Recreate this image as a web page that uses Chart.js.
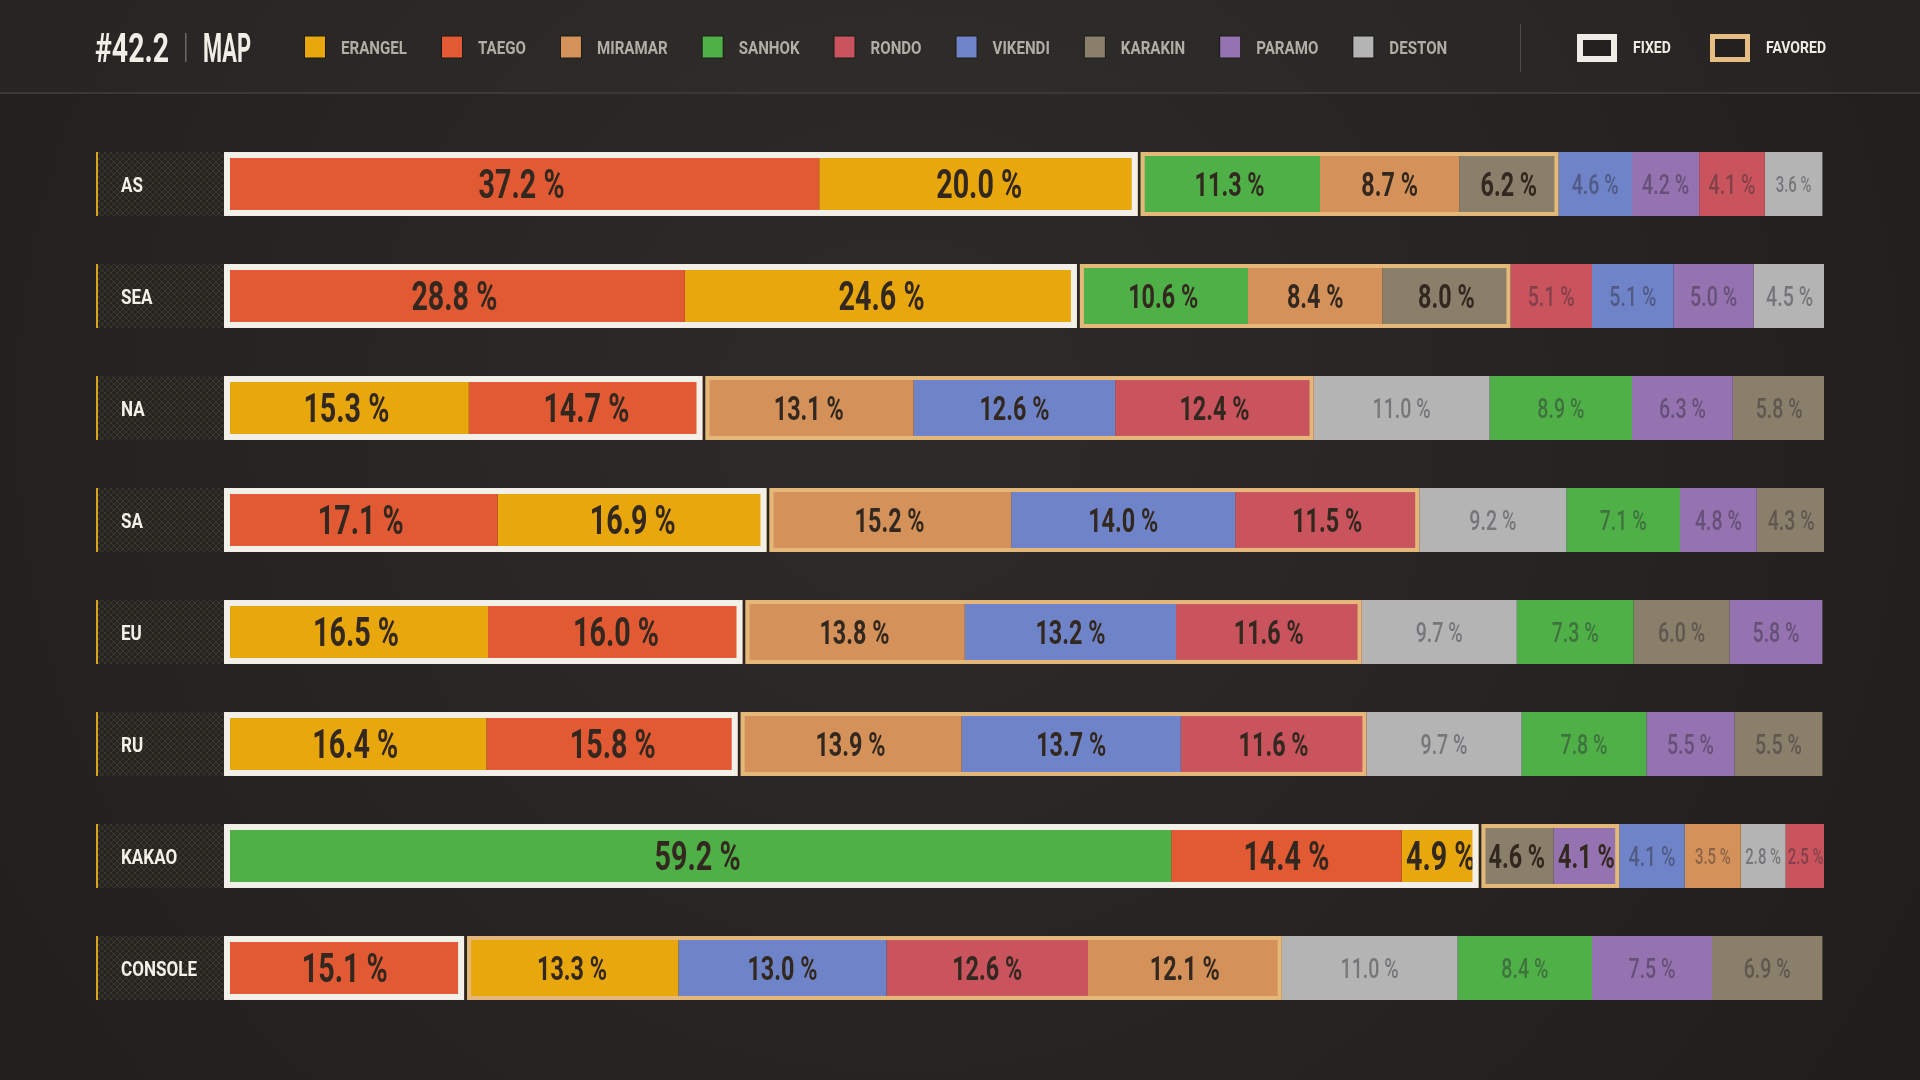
<!DOCTYPE html>
<html>
<head>
<meta charset="utf-8">
<title>#42.2 MAP</title>
<script src="https://cdn.jsdelivr.net/npm/chart.js@4.4.1/dist/chart.umd.min.js"></script>
<style>
  html, body { margin: 0; padding: 0; background: #292724; }
  #wrap { position: relative; width: 1920px; height: 1080px; }
  canvas { display: block; }
</style>
</head>
<body>
<div id="wrap"><canvas id="mapChart" width="1920" height="1080"></canvas></div>
<script>
// regions (rows) and maps (legend order)
const regions = ["AS", "SEA", "NA", "SA", "EU", "RU", "KAKAO", "CONSOLE"];
const maps = ["ERANGEL", "TAEGO", "MIRAMAR", "SANHOK", "RONDO", "VIKENDI", "KARAKIN", "PARAMO", "DESTON"];
const mapColors = ["#e8a70c", "#e25a34", "#d4925a", "#4fb047", "#c9545e", "#6f84c8", "#8a7f6a", "#9572b0", "#b4b4b4"];

// share of each map (%), one value per region, same order as regions
const erangel = [20.0, 24.6, 15.3, 16.9, 16.5, 16.4, 4.9, 13.3];
const taego   = [37.2, 28.8, 14.7, 17.1, 16.0, 15.8, 14.4, 15.1];
const miramar = [8.7, 8.4, 13.1, 15.2, 13.8, 13.9, 3.5, 12.1];
const sanhok  = [11.3, 10.6, 8.9, 7.1, 7.3, 7.8, 59.2, 8.4];
const rondo   = [4.1, 5.1, 12.4, 11.5, 11.6, 11.6, 2.5, 12.6];
const vikendi = [4.6, 5.1, 12.6, 14.0, 13.2, 13.7, 4.1, 13.0];
const karakin = [6.2, 8.0, 5.8, 4.3, 6.0, 5.5, 4.6, 6.9];
const paramo  = [4.2, 5.0, 6.3, 4.8, 5.8, 5.5, 4.1, 7.5];
const deston  = [3.6, 4.5, 11.0, 9.2, 9.7, 9.7, 2.8, 11.0];

// pools per region, left to right
const fixedPool = [
  ["TAEGO", "ERANGEL"], ["TAEGO", "ERANGEL"], ["ERANGEL", "TAEGO"], ["TAEGO", "ERANGEL"],
  ["ERANGEL", "TAEGO"], ["ERANGEL", "TAEGO"], ["SANHOK", "TAEGO", "ERANGEL"], ["TAEGO"]
];
const favoredPool = [
  ["SANHOK", "MIRAMAR", "KARAKIN"], ["SANHOK", "MIRAMAR", "KARAKIN"], ["MIRAMAR", "VIKENDI", "RONDO"],
  ["MIRAMAR", "VIKENDI", "RONDO"], ["MIRAMAR", "VIKENDI", "RONDO"], ["MIRAMAR", "VIKENDI", "RONDO"],
  ["KARAKIN", "PARAMO"], ["ERANGEL", "VIKENDI", "RONDO", "MIRAMAR"]
];
const otherPool = [
  ["VIKENDI", "PARAMO", "RONDO", "DESTON"], ["RONDO", "VIKENDI", "PARAMO", "DESTON"],
  ["DESTON", "SANHOK", "PARAMO", "KARAKIN"], ["DESTON", "SANHOK", "PARAMO", "KARAKIN"],
  ["DESTON", "SANHOK", "KARAKIN", "PARAMO"], ["DESTON", "SANHOK", "PARAMO", "KARAKIN"],
  ["VIKENDI", "MIRAMAR", "DESTON", "RONDO"], ["DESTON", "SANHOK", "PARAMO", "KARAKIN"]
];

const shareOf = { ERANGEL: erangel, TAEGO: taego, MIRAMAR: miramar, SANHOK: sanhok, RONDO: rondo,
                  VIKENDI: vikendi, KARAKIN: karakin, PARAMO: paramo, DESTON: deston };

const FONT = "Roboto, 'Open Sans', sans-serif";
const BG = "#292724";

// each dataset is one slot (1st segment, 2nd segment ...) so every row keeps its own order
const rowOrder = regions.map((r, i) => fixedPool[i].concat(favoredPool[i], otherPool[i]));
const datasets = [];
for (let k = 0; k < maps.length; k++) {
  datasets.push({
    label: "slot " + (k + 1),
    data: rowOrder.map((order, i) => shareOf[order[k]][i]),
    backgroundColor: rowOrder.map(order => mapColors[maps.indexOf(order[k])]),
    tier: rowOrder.map((order, i) => k < fixedPool[i].length ? 0 : (k < fixedPool[i].length + favoredPool[i].length ? 1 : 2)),
    borderWidth: 0,
    barPercentage: 0.571,
    categoryPercentage: 1
  });
}

// draw condensed text (horizontal squeeze)
function condText(ctx, txt, x, y, font, sx, align) {
  ctx.save();
  ctx.font = font;
  const w = ctx.measureText(txt).width * sx;
  let x0 = x;
  if (align === "center") x0 = x - w / 2;
  else if (align === "right") x0 = x - w;
  ctx.translate(x0, y);
  ctx.scale(sx, 1);
  ctx.textAlign = "left";
  ctx.textBaseline = "alphabetic";
  ctx.fillText(txt, 0, 0);
  ctx.restore();
  return w;
}
function squeeze(ctx, font, sample, target) {
  ctx.save();
  ctx.font = font;
  const w = ctx.measureText(sample).width;
  ctx.restore();
  return target / w;
}

let hatch = null;
function hatchPattern(ctx) {
  if (hatch) return hatch;
  const c = document.createElement("canvas");
  c.width = 6; c.height = 6;
  const g = c.getContext("2d");
  g.fillStyle = "#25241f";
  g.fillRect(0, 0, 6, 6);
  g.strokeStyle = "rgba(120,115,95,0.25)";
  g.lineWidth = 1;
  g.beginPath();
  g.moveTo(0, 6); g.lineTo(6, 0);
  g.moveTo(0, 0); g.lineTo(6, 6);
  g.stroke();
  hatch = ctx.createPattern(c, "repeat");
  return hatch;
}

const pageDecor = {
  id: "pageDecor",
  beforeDraw(chart) {
    const ctx = chart.ctx;
    ctx.save();
    const grad = ctx.createRadialGradient(900, 420, 100, 900, 420, 1200);
    grad.addColorStop(0, "#2d2b28");
    grad.addColorStop(1, "#1f1e1c");
    ctx.fillStyle = grad;
    ctx.fillRect(0, 0, chart.width, chart.height);

    // header strip
    ctx.fillStyle = "rgba(255,255,255,0.02)";
    ctx.fillRect(0, 0, chart.width, 92);
    ctx.fillStyle = "#3c3935";
    ctx.fillRect(0, 92, chart.width, 2);

    const cy = 47;
    // title
    ctx.fillStyle = "#f1eee8";
    const tFont = "bold 41px " + FONT;
    condText(ctx, "#42.2", 95, cy + 14.5, tFont, squeeze(ctx, tFont, "#42.2", 74), "left");
    condText(ctx, "MAP", 203, cy + 14.5, tFont, squeeze(ctx, tFont, "MAP", 48), "left");
    ctx.fillStyle = "rgba(255,255,255,0.3)";
    ctx.fillRect(185, 33, 1.5, 29);

    // legend
    const lFont = "bold 18px " + FONT;
    const lsx = squeeze(ctx, lFont, "ERANGEL", 66);
    let x = 305;
    maps.forEach((m, i) => {
      ctx.fillStyle = "rgba(0,0,0,0.35)";
      ctx.fillRect(x - 1, cy - 11.5, 22, 23);
      ctx.fillStyle = mapColors[i];
      ctx.fillRect(x, cy - 10.5, 20, 21);
      ctx.fillStyle = "#b2ada5";
      const w = condText(ctx, m, x + 36, cy + 6.5, lFont, lsx, "left");
      x = x + 36 + w + 35;
    });

    ctx.fillStyle = "rgba(255,255,255,0.18)";
    ctx.fillRect(1520, 24, 1, 48);

    // FIXED / FAVORED keys
    ctx.fillStyle = "#23211f";
    ctx.fillRect(1577, 34, 40, 28);
    ctx.fillRect(1710, 34, 40, 28);
    ctx.lineWidth = 6;
    ctx.strokeStyle = "#eeece6";
    ctx.strokeRect(1580, 37, 34, 22);
    ctx.lineWidth = 5;
    ctx.strokeStyle = "#e6bd82";
    ctx.strokeRect(1712.5, 36.5, 35, 23);
    ctx.fillStyle = "#efebe3";
    const kFont = "bold 17px " + FONT;
    const ksx = squeeze(ctx, kFont, "FAVORED", 60);
    condText(ctx, "FIXED", 1633, cy + 6, kFont, ksx, "left");
    condText(ctx, "FAVORED", 1766, cy + 6, kFont, ksx, "left");
    ctx.restore();
  },
  beforeDatasetsDraw(chart) {
    // region label boxes on the left of every bar
    const ctx = chart.ctx;
    const meta = chart.getDatasetMeta(0);
    const rFont = "bold 21px " + FONT;
    const rsx = squeeze(ctx, rFont, "CONSOLE", 76);
    ctx.save();
    meta.data.forEach((bar, i) => {
      const top = bar.y - bar.height / 2;
      ctx.fillStyle = hatchPattern(ctx);
      ctx.fillRect(96, top, 128, bar.height);
      ctx.fillStyle = "#d8a31f";
      ctx.fillRect(96, top, 2, bar.height);
      ctx.fillStyle = "#f4f1ea";
      condText(ctx, regions[i], 121, bar.y + 7.5, rFont, rsx, "left");
    });
    ctx.restore();
  },
  afterDatasetsDraw(chart) {
    const ctx = chart.ctx;
    ctx.save();
    const fixFont = "bold 40px " + FONT;
    const favFont = "bold 34px " + FONT;
    const othFont = "500 28px " + FONT;
    const fixSx = squeeze(ctx, fixFont, "37.2 %", 86);
    const favSx = squeeze(ctx, favFont, "11.3 %", 70);
    const othSx = squeeze(ctx, othFont, "4.6 %", 47);

    regions.forEach((r, i) => {
      const nFix = fixedPool[i].length;
      const nFav = favoredPool[i].length;
      const first = chart.getDatasetMeta(0).data[i];
      const top = first.y - first.height / 2;
      const h = first.height;
      const x0 = first.base;
      const xFix = chart.getDatasetMeta(nFix - 1).data[i].x;
      const xFav = chart.getDatasetMeta(nFix + nFav - 1).data[i].x;

      // segment labels
      chart.data.datasets.forEach((ds, k) => {
        const bar = chart.getDatasetMeta(k).data[i];
        const tier = ds.tier[i];
        const segW = Math.abs(bar.x - bar.base);
        const cx = (bar.x + bar.base) / 2;
        const txt = ds.data[i].toFixed(1) + " %";
        let size = tier === 0 ? 40 : (tier === 1 ? 34 : 28);
        const sx = tier === 0 ? fixSx : (tier === 1 ? favSx : othSx);
        const weight = tier === 2 ? "500 " : "bold ";
        ctx.font = weight + size + "px " + FONT;
        const w = ctx.measureText(txt).width * sx;
        if (tier === 2) {
          // narrow grey-zone segments switch to a smaller size
          if (w > segW - 14) size = size * 0.76;
          const w2 = w * size / 28;
          if (w2 > segW - 2) size = size * (segW - 2) / w2;
        } else if (w > segW - 8) {
          size = size * (segW - 8) / w;
        }
        ctx.fillStyle = tier === 2 ? "rgba(45,40,52,0.45)" : "#33281f";
        condText(ctx, txt, cx, bar.y + size * 0.36, weight + size.toFixed(1) + "px " + FONT, sx, "center");
      });

      // gap between fixed and favored pools
      ctx.fillStyle = BG;
      ctx.fillRect(xFix - 1.5, top, 3, h);
      // fixed pool frame
      ctx.lineWidth = 6;
      ctx.strokeStyle = "#f2f0e8";
      ctx.strokeRect(x0 + 3, top + 3, xFix - 1.5 - x0 - 6, h - 6);
      // favored pool frame
      ctx.lineWidth = 4;
      ctx.strokeStyle = "#e3b878";
      ctx.strokeRect(xFix + 1.5 + 2, top + 2, xFav - xFix - 1.5 - 4, h - 4);
    });
    ctx.restore();
  }
};

new Chart(document.getElementById("mapChart"), {
  type: "bar",
  data: { labels: regions, datasets: datasets },
  options: {
    indexAxis: "y",
    responsive: false,
    animation: false,
    devicePixelRatio: 1,
    events: [],
    layout: { padding: { left: 224, right: 96, top: 128, bottom: 56 } },
    scales: {
      x: { stacked: true, min: 0, max: 100, display: false },
      y: { stacked: true, display: false }
    },
    plugins: {
      legend: { display: false },
      tooltip: { enabled: false }
    }
  },
  plugins: [pageDecor]
});
</script>
</body>
</html>
